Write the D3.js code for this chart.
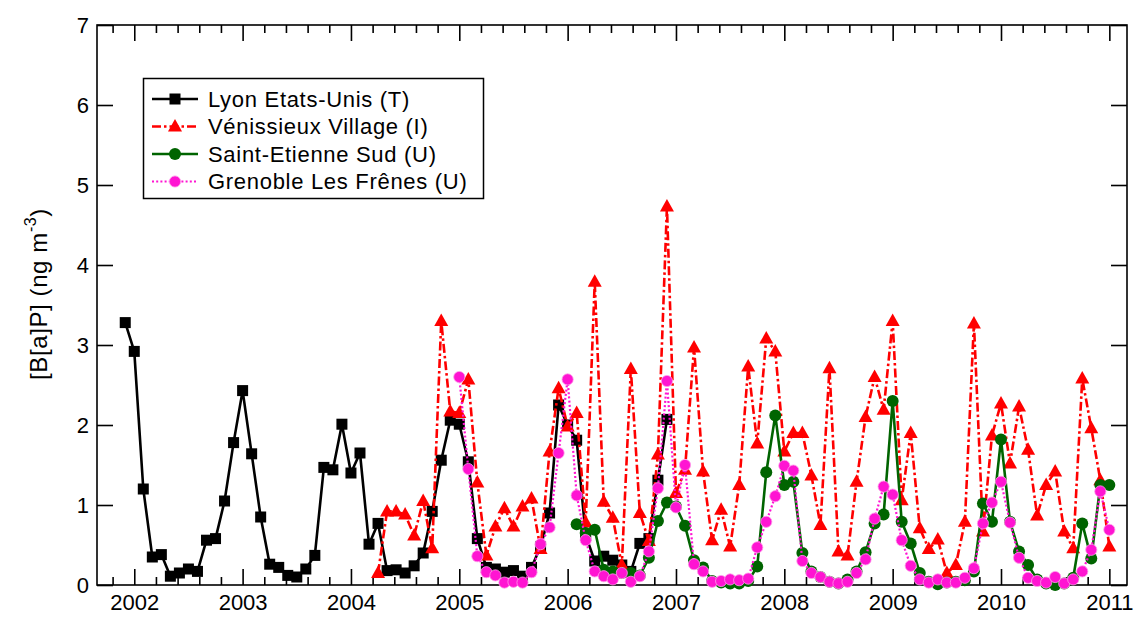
<!DOCTYPE html>
<html>
<head>
<meta charset="utf-8">
<script src="https://cdn.jsdelivr.net/npm/d3@7"></script>
<style>
  body { margin: 0; background: #fff; }
  svg { display: block; font-family: "Liberation Sans", Arial, Helvetica, sans-serif; }
</style>
</head>
<body>
<svg id="chart" width="1135" height="618"></svg>
<script>
// Monthly B[a]P concentrations (ng m-3); each series starts at [year, month]
const lyonStart = [2001, 12];
const lyonValues = [
  3.28,
  2.92, 1.20, 0.35, 0.38, 0.11, 0.15, 0.20, 0.17, 0.56, 0.58, 1.05, 1.78,
  2.43, 1.64, 0.85, 0.26, 0.22, 0.12, 0.10, 0.20, 0.37, 1.47, 1.44, 2.01,
  1.40, 1.65, 0.51, 0.77, 0.18, 0.19, 0.15, 0.24, 0.40, 0.92, 1.56, 2.06,
  2.01, 1.54, 0.58, 0.22, 0.20, 0.16, 0.18, 0.11, 0.22, 0.48, 0.90, 2.25,
  2.00, 1.81, 0.62, 0.30, 0.36, 0.31, 0.25, 0.17, 0.52, 0.58, 1.31, 2.07
];

const venissieuxStart = [2004, 4];
const venissieuxValues = [
  0.15, 0.92, 0.92, 0.88, 0.62, 1.05, 0.46, 3.30, 2.17,
  2.15, 2.57, 1.28, 0.37, 0.73, 0.96, 0.73, 0.98, 1.08, 0.45, 1.67, 2.46,
  1.98, 2.15, 0.78, 3.79, 1.04, 0.84, 0.25, 2.70, 0.90, 0.55, 1.63, 4.73,
  1.15, 1.44, 2.97, 1.42, 0.56, 0.94, 0.48, 1.25, 2.73, 1.77, 3.08, 2.92,
  1.67, 1.90, 1.90, 1.37, 0.75, 2.71, 0.42, 0.37, 1.29, 2.10, 2.60, 2.19,
  3.30, 1.06, 1.90, 0.71, 0.45, 0.57, 0.15, 0.25, 0.79, 3.27, 0.67, 1.87,
  2.27, 1.52, 2.23, 1.69, 0.87, 1.25, 1.42, 0.67, 0.46, 2.58, 1.96, 1.31,
  0.48
];

const saintEtienneStart = [2006, 2];
const saintEtienneValues = [
  0.76, 0.65, 0.69, 0.19, 0.17, 0.15, 0.15, 0.12, 0.34, 0.80, 1.03,
  0.98, 0.74, 0.31, 0.22, 0.05, 0.03, 0.02, 0.02, 0.05, 0.23, 1.41, 2.12,
  1.25, 1.29, 0.40, 0.17, 0.10, 0.04, 0.02, 0.07, 0.17, 0.41, 0.77, 0.88,
  2.30, 0.79, 0.52, 0.15, 0.04, 0.01, 0.03, 0.04, 0.06, 0.17, 1.02, 0.79,
  1.82, 0.79, 0.42, 0.25, 0.07, 0.02, 0.00, 0.02, 0.09, 0.77, 0.33, 1.25,
  1.25
];

const grenobleStart = [2005, 1];
const grenobleValues = [
  2.60, 1.45, 0.36, 0.16, 0.12, 0.03, 0.04, 0.03, 0.16, 0.51, 0.72, 1.65,
  2.57, 1.12, 0.56, 0.17, 0.11, 0.07, 0.15, 0.04, 0.11, 0.42, 1.21, 2.55,
  0.97, 1.50, 0.26, 0.17, 0.04, 0.05, 0.07, 0.06, 0.08, 0.47, 0.79, 1.11,
  1.49, 1.43, 0.30, 0.15, 0.10, 0.04, 0.02, 0.04, 0.15, 0.32, 0.83, 1.23,
  1.13, 0.56, 0.24, 0.07, 0.03, 0.07, 0.03, 0.03, 0.09, 0.21, 0.77, 1.03,
  1.29, 0.78, 0.34, 0.09, 0.05, 0.03, 0.10, 0.02, 0.07, 0.17, 0.44, 1.17,
  0.69
];

const seriesNames = [
  "Lyon Etats-Unis (T)",
  "Vénissieux Village (I)",
  "Saint-Etienne Sud (U)",
  "Grenoble Les Frênes (U)"
];

const yearTicks = [2002, 2003, 2004, 2005, 2006, 2007, 2008, 2009, 2010, 2011];
const yTicks = [0, 1, 2, 3, 4, 5, 6, 7];

// Convert a start month + monthly values into {t: decimal year, v}
function monthly(start, values) {
  return values.map((v, i) => ({ t: start[0] + (start[1] - 1 + i) / 12, v }));
}

const series = [
  { name: seriesNames[0], data: monthly(lyonStart, lyonValues), color: "#000000",
    width: 2.6, dash: null, marker: "square" },
  { name: seriesNames[1], data: monthly(venissieuxStart, venissieuxValues), color: "#ff0000",
    width: 2.6, dash: "9,3,2.5,3", marker: "triangle" },
  { name: seriesNames[2], data: monthly(saintEtienneStart, saintEtienneValues), color: "#006400",
    width: 2.6, dash: null, marker: "circle" },
  { name: seriesNames[3], data: monthly(grenobleStart, grenobleValues), color: "#ff14d2",
    width: 2.2, dash: "2,2.2", marker: "dot" }
];

const svg = d3.select("#chart");
const plot = { left: 97, right: 1127, top: 25, bottom: 585 };

const x = d3.scaleLinear().domain([2001.656, 2011.163]).range([plot.left, plot.right]);
const y = d3.scaleLinear().domain([0, 7]).range([plot.bottom, plot.top]);

// Minor ticks every 0.2 year, years as major ticks
const minorTicks = d3.range(9, 56).map(i => +(2000 + i * 0.2).toFixed(1))
  .filter(t => Math.abs(t - Math.round(t)) > 1e-6);

function styleAxis(g) {
  g.select(".domain").remove();
  g.selectAll(".tick line").attr("stroke", "#000").attr("stroke-width", 1.6);
  g.selectAll(".tick text").attr("fill", "#000").attr("font-size", 22)
    .attr("font-family", "\"Liberation Sans\", Arial, sans-serif");
}

// Bottom axis
svg.append("g").attr("transform", `translate(0,${plot.bottom})`)
  .call(d3.axisBottom(x).tickValues(minorTicks).tickSize(-8).tickFormat(""))
  .call(styleAxis);
svg.append("g").attr("transform", `translate(0,${plot.bottom})`)
  .call(d3.axisBottom(x).tickValues(yearTicks).tickSize(-16).tickPadding(9).tickFormat(d3.format("d")))
  .call(styleAxis);

// Top axis (mirror ticks)
svg.append("g").attr("transform", `translate(0,${plot.top})`)
  .call(d3.axisTop(x).tickValues(minorTicks).tickSize(-8).tickFormat(""))
  .call(styleAxis);
svg.append("g").attr("transform", `translate(0,${plot.top})`)
  .call(d3.axisTop(x).tickValues(yearTicks).tickSize(-16).tickFormat(""))
  .call(styleAxis);

// Left and right axes
svg.append("g").attr("transform", `translate(${plot.left},0)`)
  .call(d3.axisLeft(y).tickValues(yTicks).tickSize(-16).tickPadding(8).tickFormat(d3.format("d")))
  .call(styleAxis);
svg.append("g").attr("transform", `translate(${plot.right},0)`)
  .call(d3.axisRight(y).tickValues(yTicks).tickSize(-16).tickFormat(""))
  .call(styleAxis);

// Plot frame
svg.append("rect")
  .attr("x", plot.left).attr("y", plot.top)
  .attr("width", plot.right - plot.left).attr("height", plot.bottom - plot.top)
  .attr("fill", "none").attr("stroke", "#000").attr("stroke-width", 1.6);

// Y axis title with superscript
const yTitle = svg.append("text")
  .attr("transform", "translate(47,294) rotate(-90)")
  .attr("text-anchor", "middle")
  .attr("font-size", 24)
  .attr("letter-spacing", 0.6)
  .attr("fill", "#000");
yTitle.append("tspan").text("[B[a]P] (ng m");
yTitle.append("tspan").attr("font-size", 16).attr("dy", -11).text("-3");
yTitle.append("tspan").attr("dy", 11).text(")");

// Marker drawing
function drawMarker(sel, kind, color) {
  if (kind === "square") {
    sel.append("rect").attr("x", -5.5).attr("y", -5.5).attr("width", 11).attr("height", 11)
      .attr("fill", color);
  } else if (kind === "triangle") {
    sel.append("path").attr("d", "M0,-7.5L7,5L-7,5Z").attr("fill", color);
  } else if (kind === "circle") {
    sel.append("circle").attr("r", 6).attr("fill", color);
  } else {
    sel.append("circle").attr("r", 5.6).attr("fill", color)
      .attr("stroke", "#ff9bea").attr("stroke-width", 0.8);
  }
}

const line = d3.line().x(d => x(d.t)).y(d => y(d.v));

const layer = svg.append("g");
series.forEach(s => {
  const g = layer.append("g");
  g.append("path").datum(s.data)
    .attr("d", line)
    .attr("fill", "none")
    .attr("stroke", s.color)
    .attr("stroke-width", s.width)
    .attr("stroke-linejoin", "round")
    .attr("stroke-dasharray", s.dash);
  g.selectAll("g.pt").data(s.data).join("g")
    .attr("class", "pt")
    .attr("transform", d => `translate(${x(d.t)},${y(d.v)})`)
    .each(function () { drawMarker(d3.select(this), s.marker, s.color); });
});

// Legend
const legend = svg.append("g");
legend.append("rect")
  .attr("x", 143.5).attr("y", 78.5).attr("width", 340).attr("height", 120)
  .attr("fill", "#fff").attr("stroke", "#000").attr("stroke-width", 1.5);
series.forEach((s, i) => {
  const ly = 99 + i * 27.5;
  const row = legend.append("g").attr("transform", `translate(0,${ly})`);
  row.append("line").attr("x1", 152).attr("x2", 198).attr("y1", 0).attr("y2", 0)
    .attr("stroke", s.color).attr("stroke-width", s.width)
    .attr("stroke-dasharray", s.dash);
  drawMarker(row.append("g").attr("transform", "translate(175,0)"), s.marker, s.color);
  row.append("text").attr("x", 208).attr("y", 0).attr("dy", "0.36em")
    .attr("font-size", 22).attr("letter-spacing", 0.7).attr("fill", "#000")
    .text(s.name);
});
</script>
</body>
</html>
